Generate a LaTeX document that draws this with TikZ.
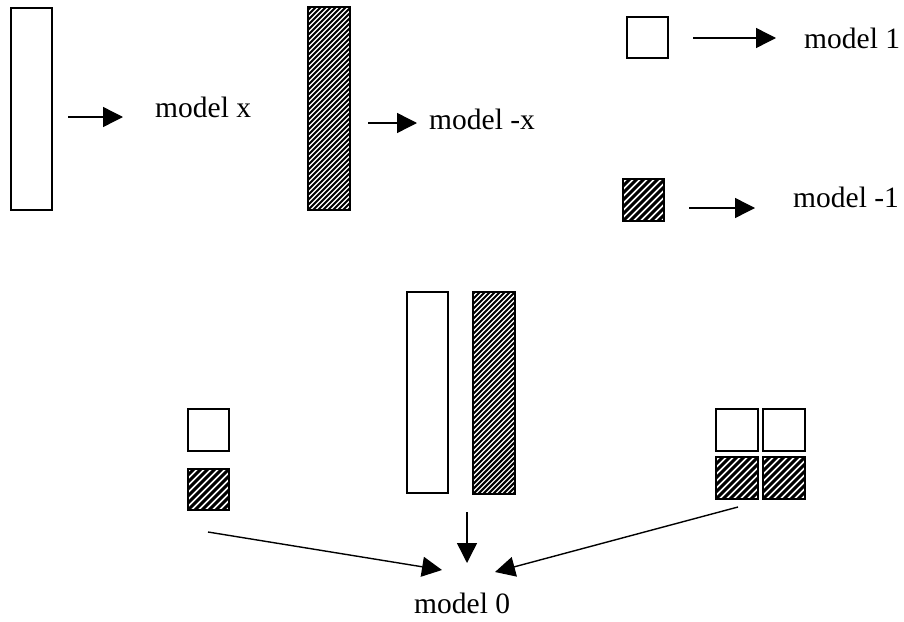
\documentclass[tikz,border=0pt]{standalone}
\usepackage{fontspec}
\setmainfont{Liberation Serif}
\usetikzlibrary{arrows.meta}
\begin{document}
\begin{tikzpicture}[x=1pt,y=-1pt,
  box/.style={draw=black, line width=1.3pt, fill=white, inner sep=0pt, outer sep=0pt, anchor=north west},
  hatched/.style={box, path picture={
      \foreach \i in {-50,...,14}{
        \draw[line width={0.42*#1*1pt}] ([xshift={\i*#1*1pt}]path picture bounding box.south west) -- ++(300pt,300pt);
      }}},
  hatched/.default=7,
  lbl/.style={font=\fontsize{29.5}{33}\selectfont, inner sep=0pt, anchor=base west},
  arr/.style={line width=1.4pt, -{Triangle[length=20pt,width=20pt]}}
]
\useasboundingbox (0,0) rectangle (904,621);
\fill[white] (0,0) rectangle (904,621);

% top row
\node[box, minimum width=41pt, minimum height=202pt] (A) at (11,8) {};
\node[hatched=5, minimum width=42pt, minimum height=203pt] (B) at (308,7) {};
\node[box, minimum width=41pt, minimum height=41pt] (S1) at (627,17) {};
\node[hatched=7, minimum width=41pt, minimum height=42pt] (S2) at (623,179) {};

\node[lbl] (mx) at (155,117) {model x};
\node[lbl] (mmx) at (429,129) {model -x};
\node[lbl] (m1) at (804,48) {model 1};
\node[lbl] (mm1) at (793,207) {model -1};

\coordinate (a1s) at (68,117);  \coordinate (a1e) at (123,117);
\coordinate (a2s) at (368,123); \coordinate (a2e) at (417,123);
\coordinate (a3s) at (693,38);  \coordinate (a3e) at (776,38);
\coordinate (a4s) at (689,208); \coordinate (a4e) at (755,208);
\draw[arr] (a1s) -- (a1e);
\draw[arr] (a2s) -- (a2e);
\draw[arr] (a3s) -- (a3e);
\draw[arr] (a4s) -- (a4e);

% bottom group
\node[box, minimum width=41pt, minimum height=42pt] (C1) at (188,409) {};
\node[hatched=7, minimum width=41pt, minimum height=41pt] (C2) at (188,469) {};
\node[box, minimum width=41pt, minimum height=201pt] (D1) at (407,292) {};
\node[hatched=5, minimum width=42pt, minimum height=202pt] (D2) at (473,292) {};
\node[box, minimum width=42pt, minimum height=42pt] (E1) at (716,409) {};
\node[box, minimum width=42pt, minimum height=42pt] (E2) at (763,409) {};
\node[hatched=7, minimum width=42pt, minimum height=42pt] (E3) at (716,457) {};
\node[hatched=7, minimum width=42pt, minimum height=42pt] (E4) at (763,457) {};

\node[lbl] (m0) at (414,613) {model 0};

\coordinate (a5s) at (208,532); \coordinate (a5e) at (442,570);
\coordinate (a6s) at (467,512); \coordinate (a6e) at (467,563);
\coordinate (a7s) at (738,507); \coordinate (a7e) at (495,572);
\draw[arr] (a5s) -- (a5e);
\draw[arr] (a6s) -- (a6e);
\draw[arr] (a7s) -- (a7e);
\end{tikzpicture}
\end{document}
